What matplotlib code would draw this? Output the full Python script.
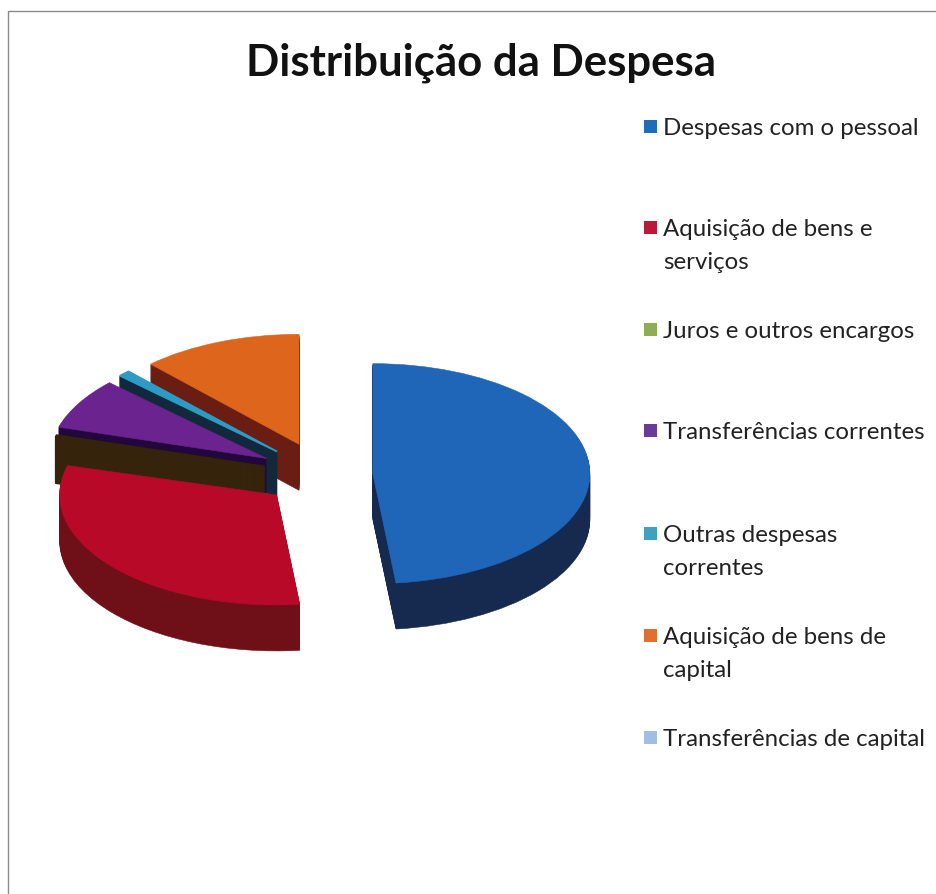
"""Distribuição da Despesa: exploded pseudo-3D pie with a hand-placed legend."""

import matplotlib

matplotlib.use("Agg")
import matplotlib.pyplot as plt
from matplotlib.lines import Line2D
from matplotlib.patches import Rectangle
import numpy as np

WIDTH = 937
HEIGHT = 894

categories = [
    "Despesas com o pessoal",
    "Aquisição de bens e\nserviços",
    "Juros e outros encargos",
    "Transferências correntes",
    "Outras despesas\ncorrentes",
    "Aquisição de bens de\ncapital",
    "Transferências de capital",
]
shares = [48.3, 31.0, 0.3, 7.5, 0.9, 12.0, 0.0]

top_colors = ["#1f66b8", "#b80a28", "#35240b", "#6b2390", "#2a9cc6", "#de651c", "#9dbbdd"]
side_colors = ["#16294f", "#6f1019", "#35240b", "#22083a", "#14283c", "#6a1d12", "#44566e"]
legend_colors = ["#1f6cb8", "#b81a3a", "#8fad55", "#6a3a9a", "#3fa0c0", "#e07030", "#a0bfe0"]

explode = [0.23, 0.28, 0.28, 0.30, 0.30, 0.30, 0.0]
draw_order = [5, 4, 3, 2, 1, 0, 6]
legend_y = [127, 228, 330, 431, 534, 636, 738]

CENTER_X = 323
CENTER_Y = 475
RADIUS_X = 217
RADIUS_Y = 110
DEPTH = 46
LINE_GAP = 33


def draw_pie_layer(axis, offset, colors, base_zorder):
    wedges, _ = axis.pie(
        shares,
        colors=colors,
        explode=explode,
        startangle=90,
        counterclock=False,
        center=(0, -offset / RADIUS_Y),
    )
    for wedge, color, share in zip(wedges, colors, shares):
        wedge.set_edgecolor(color)
        # thin slices need a wider edge or the extrusion shows stripes
        wedge.set_linewidth(1.2 if share < 2 else 0.4)
        wedge.set_visible(share > 0)
    for rank, slice_index in enumerate(draw_order):
        wedges[slice_index].set_zorder(rank * 10 + base_zorder)


figure = plt.figure(figsize=(WIDTH / 100, HEIGHT / 100), dpi=100)
axis = figure.add_axes([0, 0, 1, 1])

for offset in np.arange(DEPTH, 0, -1):
    draw_pie_layer(axis, offset, side_colors, 1)
draw_pie_layer(axis, 0, top_colors, 5)

axis.set_aspect("auto")
axis.set_xlim(-CENTER_X / RADIUS_X, (WIDTH - CENTER_X) / RADIUS_X)
axis.set_ylim((CENTER_Y - HEIGHT) / RADIUS_Y, CENTER_Y / RADIUS_Y)
axis.axis("off")

figure.text(
    481 / WIDTH,
    1 - 63 / HEIGHT,
    "Distribuição da Despesa",
    family="Lato",
    weight="bold",
    fontsize=31.5,
    color="#111111",
    ha="center",
    va="center",
)

for label, color, y in zip(categories, legend_colors, legend_y):
    figure.add_artist(
        Rectangle(
            (644 / WIDTH, 1 - (y + 6) / HEIGHT),
            13 / WIDTH,
            13 / HEIGHT,
            transform=figure.transFigure,
            facecolor=color,
            edgecolor="none",
        )
    )
    for line_index, line in enumerate(label.split("\n")):
        figure.text(
            663 / WIDTH,
            1 - (y + 8 + line_index * LINE_GAP) / HEIGHT,
            line,
            family="Lato",
            fontsize=17.3,
            color="#222222",
            ha="left",
            va="baseline",
        )

# scanned page frame: left and top only
figure.add_artist(
    Line2D(
        [8 / WIDTH, 8 / WIDTH, 1],
        [0, 1 - 11 / HEIGHT, 1 - 11 / HEIGHT],
        transform=figure.transFigure,
        color="#8a8a8a",
        linewidth=1,
    )
)

figure.savefig("out.png", dpi=100)
